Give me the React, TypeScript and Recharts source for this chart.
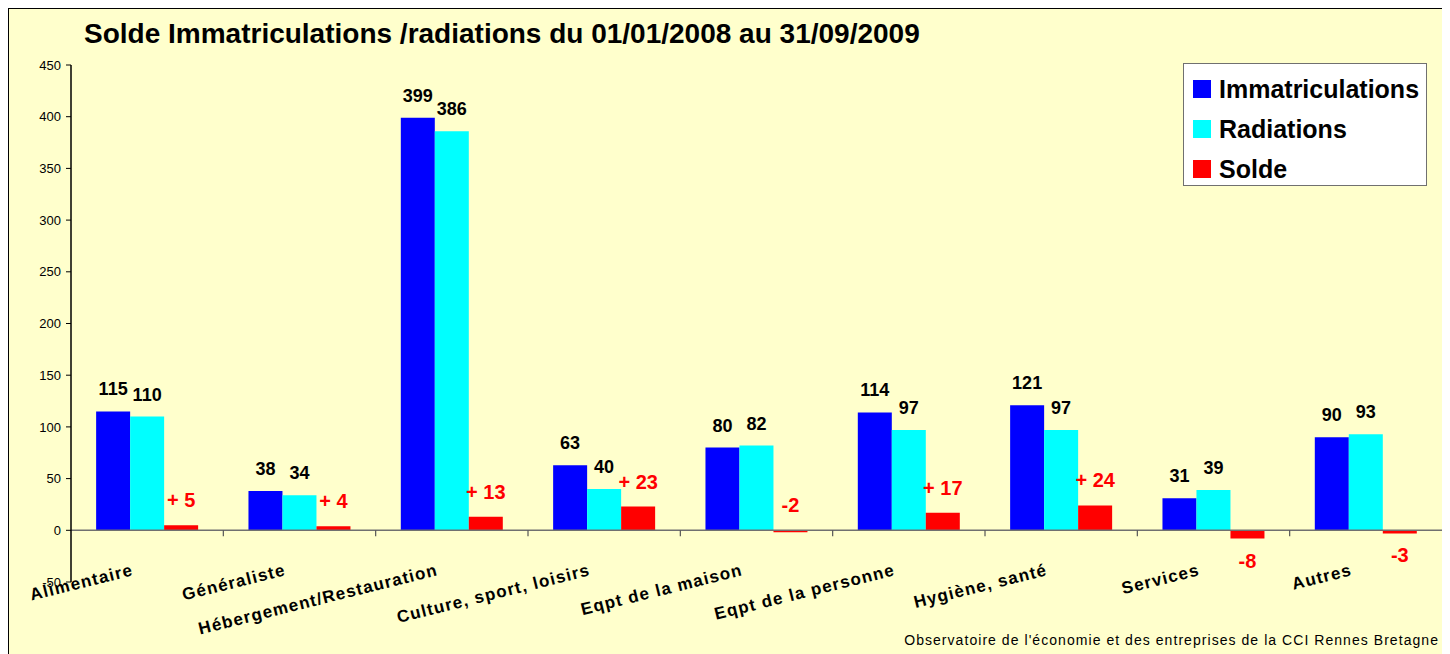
import React from "react";
import {
  BarChart,
  Bar,
  XAxis,
  YAxis,
  ReferenceLine,
  LabelList,
} from "recharts";

const CATEGORIES = [
  "Alimentaire",
  "Généraliste",
  "Hébergement/Restauration",
  "Culture, sport, loisirs",
  "Eqpt de la maison",
  "Eqpt de la personne",
  "Hygiène, santé",
  "Services",
  "Autres",
];
const IMMATRICULATIONS = [115, 38, 399, 63, 80, 114, 121, 31, 90];
const RADIATIONS = [110, 34, 386, 40, 82, 97, 97, 39, 93];
const SOLDE = [5, 4, 13, 23, -2, 17, 24, -8, -3];
const Y_TICKS = [-50, 0, 50, 100, 150, 200, 250, 300, 350, 400, 450];

const TITLE = "Solde Immatriculations /radiations du 01/01/2008 au 31/09/2009";
const SOURCE = "Observatoire de l'économie et des entreprises de la CCI Rennes Bretagne";

const data = CATEGORIES.map((name, i) => ({
  name,
  immat: IMMATRICULATIONS[i],
  radiat: RADIATIONS[i],
  solde: SOLDE[i],
}));

const FONT = "'Liberation Sans', Arial, sans-serif";
const W = 1433;
const H = 650;
const Y_W = 62;
const TOP = 56;
const X_H = 77;
const PLOT_H = H - TOP - X_H;
const BAND = (W - Y_W) / CATEGORIES.length;
const Y_MIN = Y_TICKS[0];
const Y_MAX = Y_TICKS[Y_TICKS.length - 1];

// x labels: rotated, anchored on their right end; also draws the small
// category separator ticks on the zero line
const XTick = (props: any) => {
  const { x, y, payload, index } = props;
  const zeroY = y - (PLOT_H * (0 - Y_MIN)) / (Y_MAX - Y_MIN);
  const bx = x + BAND / 2;
  const tx = x - 13;
  const ty = y - 7;
  return (
    <g>
      {index < CATEGORIES.length - 1 && (
        <line x1={bx} x2={bx} y1={zeroY} y2={zeroY + 6} stroke="#555" strokeWidth={1.2} />
      )}
      <text
        x={tx}
        y={ty}
        textAnchor="end"
        transform={`rotate(-14, ${tx}, ${ty})`}
        fontSize={17}
        fontWeight="bold"
        fontFamily={FONT}
        fill="#000"
        letterSpacing={1.2}
      >
        {payload.value}
      </text>
    </g>
  );
};

// solde labels: above the bar, except clearly negative ones which go below
const SoldeLabel = (props: any) => {
  const vb = props.viewBox || props;
  const x = vb.x ?? props.x;
  const y = vb.y ?? props.y;
  const w = vb.width ?? props.width;
  const h = vb.height ?? props.height;
  const v = Number(props.value);
  const top = Math.min(y, y + h);
  const bottom = Math.max(y, y + h);
  const ly = v > -3 ? top - 18 : bottom + 29;
  return (
    <text
      x={x + w / 2}
      y={ly}
      textAnchor="middle"
      fontSize={20}
      fontWeight="bold"
      fontFamily={FONT}
      fill="#FF0000"
    >
      {v >= 0 ? `+ ${v}` : `${v}`}
    </text>
  );
};

const LEGEND = [
  { name: "Immatriculations", color: "#0000FF" },
  { name: "Radiations", color: "#00FFFF" },
  { name: "Solde", color: "#FF0000" },
];

export default function App() {
  return (
    <div
      style={{
        position: "relative",
        width: W,
        height: H,
        margin: "-1px 0 0 -1px",
        border: "2px solid #000",
        background: "#FFFFCC",
        fontFamily: FONT,
      }}
    >
      <div
        style={{
          position: "absolute",
          left: 75,
          top: 9,
          fontSize: 28,
          lineHeight: "32px",
          fontWeight: "bold",
          color: "#000",
          whiteSpace: "nowrap",
        }}
      >
        {TITLE}
      </div>

      <BarChart
        width={W}
        height={H}
        data={data}
        margin={{ top: TOP, right: 0, left: 0, bottom: 0 }}
        barCategoryGap="16.5%"
        barGap={0}
      >
        <XAxis
          dataKey="name"
          height={X_H}
          axisLine={false}
          tickLine={false}
          tickSize={0}
          tickMargin={0}
          interval={0}
          tick={<XTick />}
        />
        <YAxis
          domain={[Y_MIN, Y_MAX]}
          ticks={Y_TICKS}
          interval={0}
          width={Y_W}
          allowDataOverflow
          tickSize={5}
          tickMargin={5}
          axisLine={{ stroke: "#000", strokeWidth: 1.5 }}
          tickLine={{ stroke: "#000" }}
          tick={{ fill: "#000", fontSize: 13, fontFamily: FONT }}
        />
        <Bar dataKey="immat" fill="#0000FF" isAnimationActive={false}>
          <LabelList
            dataKey="immat"
            position="top"
            offset={16}
            fill="#000"
            fontSize={18}
            fontWeight="bold"
            fontFamily={FONT}
          />
        </Bar>
        <Bar dataKey="radiat" fill="#00FFFF" isAnimationActive={false}>
          <LabelList
            dataKey="radiat"
            position="top"
            offset={16}
            fill="#000"
            fontSize={18}
            fontWeight="bold"
            fontFamily={FONT}
          />
        </Bar>
        <Bar dataKey="solde" fill="#FF0000" isAnimationActive={false}>
          <LabelList dataKey="solde" content={<SoldeLabel />} />
        </Bar>
        <ReferenceLine y={0} stroke="#707070" strokeWidth={1.5} />
      </BarChart>

      <div
        style={{
          position: "absolute",
          left: 1174,
          top: 54,
          width: 242,
          height: 121,
          background: "#fff",
          border: "1px solid #707070",
        }}
      >
        {LEGEND.map((item, i) => (
          <div
            key={item.name}
            style={{
              position: "absolute",
              left: 9,
              top: 11 + i * 40,
              display: "flex",
              alignItems: "center",
              height: 28,
            }}
          >
            <span
              style={{
                display: "inline-block",
                width: 18,
                height: 18,
                background: item.color,
                marginRight: 8,
              }}
            />
            <span style={{ fontSize: 25, fontWeight: "bold", color: "#000" }}>
              {item.name}
            </span>
          </div>
        ))}
      </div>

      <div
        style={{
          position: "absolute",
          right: 3,
          top: 623,
          fontSize: 14,
          color: "#000",
          whiteSpace: "nowrap",
          letterSpacing: 1.05,
        }}
      >
        {SOURCE}
      </div>
    </div>
  );
}
